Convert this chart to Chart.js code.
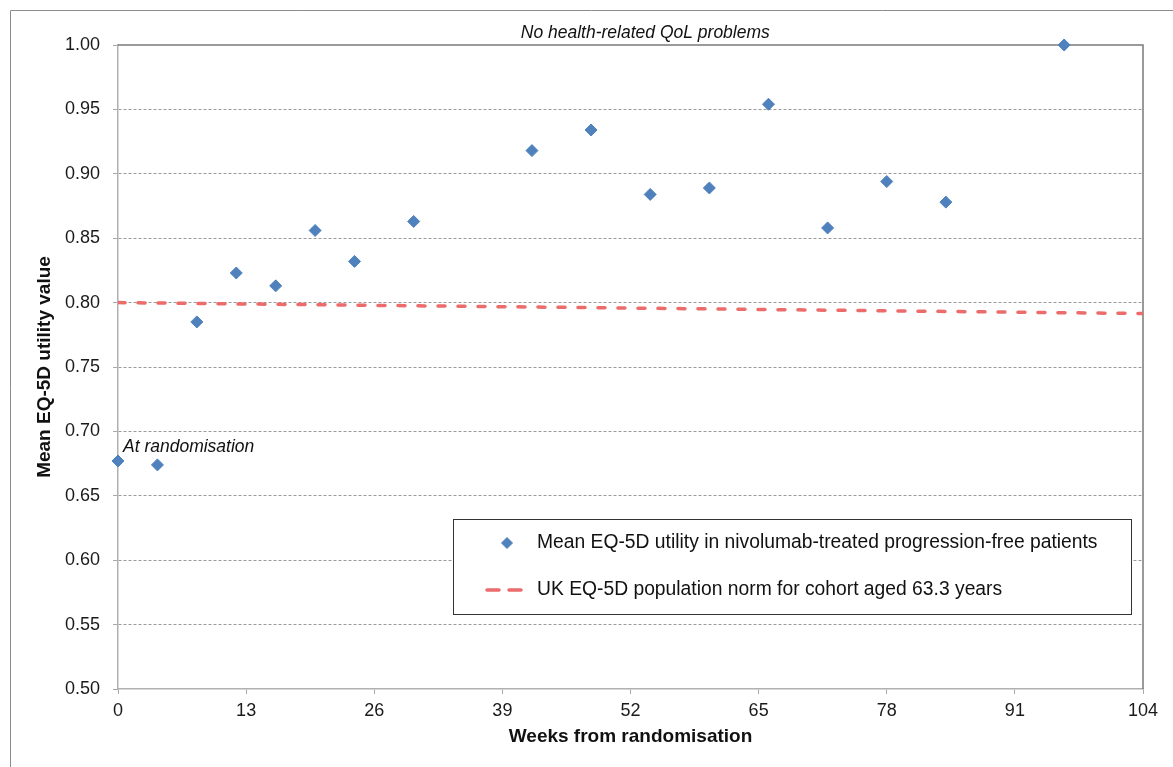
<!DOCTYPE html>
<html>
<head>
<meta charset="utf-8">
<title>Mean EQ-5D utility</title>
<script src="https://cdn.jsdelivr.net/npm/chart.js@4.4.1/dist/chart.umd.min.js"></script>
<style>
  html, body { margin: 0; padding: 0; background: #fff; }
  #wrap { position: relative; width: 1173px; height: 767px; }
</style>
</head>
<body>
<div id="wrap"><canvas id="chart" width="1173" height="767"></canvas></div>
<script>
// data
const weeks = [0, 4, 8, 12, 16, 20, 24, 30, 42, 48, 54, 60, 66, 72, 78, 84, 96];
const utility = [0.677, 0.674, 0.785, 0.823, 0.813, 0.856, 0.832, 0.863, 0.918, 0.934, 0.884, 0.889, 0.954, 0.858, 0.894, 0.878, 1.000];
const normWeeks = [0, 104];
const normUtility = [0.800, 0.7915];
const xTicks = [0, 13, 26, 39, 52, 65, 78, 91, 104];
const yTicks = [0.50, 0.55, 0.60, 0.65, 0.70, 0.75, 0.80, 0.85, 0.90, 0.95, 1.00];

const seriesLabels = [
  'Mean EQ-5D utility in nivolumab-treated progression-free patients',
  'UK EQ-5D population norm for cohort aged 63.3 years'
];

const FONT = "'Liberation Sans', Arial, sans-serif";
const BLUE = '#4F81BD';
const RED = '#EC6B6B';

// outer frame, plot top/right border
const framePlugin = {
  id: 'frame',
  beforeDraw(chart) {
    const ctx = chart.ctx;
    ctx.save();
    ctx.strokeStyle = '#8c8c8c';
    ctx.lineWidth = 1;
    ctx.beginPath();
    ctx.moveTo(10.5, chart.height);
    ctx.lineTo(10.5, 10.5);
    ctx.lineTo(chart.width, 10.5);
    ctx.stroke();
    ctx.restore();
  },
  beforeDatasetsDraw(chart) {
    const { ctx, chartArea: a } = chart;
    ctx.save();
    ctx.strokeStyle = '#7a7a7a';
    ctx.lineWidth = 1.5;
    ctx.beginPath();
    ctx.moveTo(a.left, a.top);
    ctx.lineTo(a.right, a.top);
    ctx.lineTo(a.right, a.bottom);
    ctx.stroke();
    ctx.restore();
  }
};

// text notes + boxed legend
const notesPlugin = {
  id: 'notes',
  afterDraw(chart) {
    const { ctx, scales: { x, y } } = chart;
    ctx.save();
    ctx.fillStyle = '#111';
    ctx.font = 'italic 17.5px ' + FONT;
    ctx.textBaseline = 'alphabetic';
    ctx.textAlign = 'center';
    ctx.fillText('No health-related QoL problems', x.getPixelForValue(53.5), y.getPixelForValue(1.0) - 7);
    ctx.textAlign = 'left';
    ctx.fillText('At randomisation', x.getPixelForValue(0) + 5, y.getPixelForValue(0.684));

    // legend box
    const bx = 453, by = 519, bw = 678, bh = 95;
    ctx.fillStyle = '#fff';
    ctx.fillRect(bx, by, bw, bh);
    ctx.strokeStyle = '#333';
    ctx.lineWidth = 1;
    ctx.strokeRect(bx + 0.5, by + 0.5, bw, bh);

    ctx.fillStyle = BLUE;
    ctx.strokeStyle = BLUE;
    Chart.helpers.drawPoint(ctx, { pointStyle: 'rectRot', radius: 5.5, borderWidth: 1 }, bx + 54, by + 24);

    ctx.save();
    ctx.strokeStyle = RED;
    ctx.lineWidth = 3.5;
    ctx.lineCap = 'round';
    ctx.beginPath();
    ctx.moveTo(bx + 34, by + 71); ctx.lineTo(bx + 46, by + 71);
    ctx.moveTo(bx + 56, by + 71); ctx.lineTo(bx + 68, by + 71);
    ctx.stroke();
    ctx.restore();

    ctx.fillStyle = '#111';
    ctx.font = '19.3px ' + FONT;
    ctx.textBaseline = 'middle';
    ctx.fillText(seriesLabels[0], bx + 84, by + 24);
    ctx.fillText(seriesLabels[1], bx + 84, by + 71);
    ctx.restore();
  }
};

const ctx = document.getElementById('chart').getContext('2d');
new Chart(ctx, {
  type: 'scatter',
  data: {
    datasets: [
      {
        label: seriesLabels[0],
        data: weeks.map((w, i) => ({ x: w, y: utility[i] })),
        pointStyle: 'rectRot',
        pointRadius: 6,
        pointBorderWidth: 1,
        backgroundColor: BLUE,
        borderColor: BLUE,
        clip: false
      },
      {
        label: seriesLabels[1],
        data: normWeeks.map((w, i) => ({ x: w, y: normUtility[i] })),
        showLine: true,
        pointRadius: 0,
        borderColor: RED,
        borderWidth: 3.5,
        borderDash: [7, 13],
        borderCapStyle: 'round'
      }
    ]
  },
  options: {
    responsive: false,
    animation: false,
    layout: { padding: { top: 45, right: 30, left: 0, bottom: 0 } },
    plugins: {
      legend: { display: false },
      tooltip: { enabled: false }
    },
    scales: {
      x: {
        type: 'linear',
        min: 0,
        max: 104,
        afterBuildTicks: s => { s.ticks = xTicks.map(v => ({ value: v })); },
        afterFit: s => { s.height = 78; },
        grid: { drawOnChartArea: false, drawTicks: true, tickLength: 5, tickColor: '#a8a8a8', color: '#a8a8a8' },
        border: { color: '#b0b0b0', width: 1.5 },
        ticks: { color: '#1a1a1a', font: { family: FONT, size: 18 }, padding: 6, maxRotation: 0, autoSkip: false },
        title: { display: true, text: 'Weeks from randomisation', color: '#111', font: { family: FONT, size: 19, weight: 'bold' }, padding: { top: 0, bottom: 19 } }
      },
      y: {
        type: 'linear',
        min: 0.5,
        max: 1.0,
        afterBuildTicks: s => { s.ticks = yTicks.map(v => ({ value: v })); },
        afterFit: s => { s.width = 118; },
        grid: {
          color: c => (c.tick && (Math.abs(c.tick.value - 0.5) < 1e-6 || Math.abs(c.tick.value - 1) < 1e-6)) ? 'rgba(0,0,0,0)' : '#9a9a9a',
          tickColor: '#a8a8a8',
          tickLength: 5,
          lineWidth: 1
        },
        border: { color: '#b0b0b0', width: 1.5, dash: [3, 2] },
        ticks: { color: '#1a1a1a', font: { family: FONT, size: 18 }, padding: 13, callback: v => Number(v).toFixed(2) },
        title: { display: true, text: 'Mean EQ-5D utility value', color: '#111', font: { family: FONT, size: 19, weight: 'bold' }, padding: { top: 33, bottom: 0 } }
      }
    }
  },
  plugins: [framePlugin, notesPlugin]
});
</script>
</body>
</html>
